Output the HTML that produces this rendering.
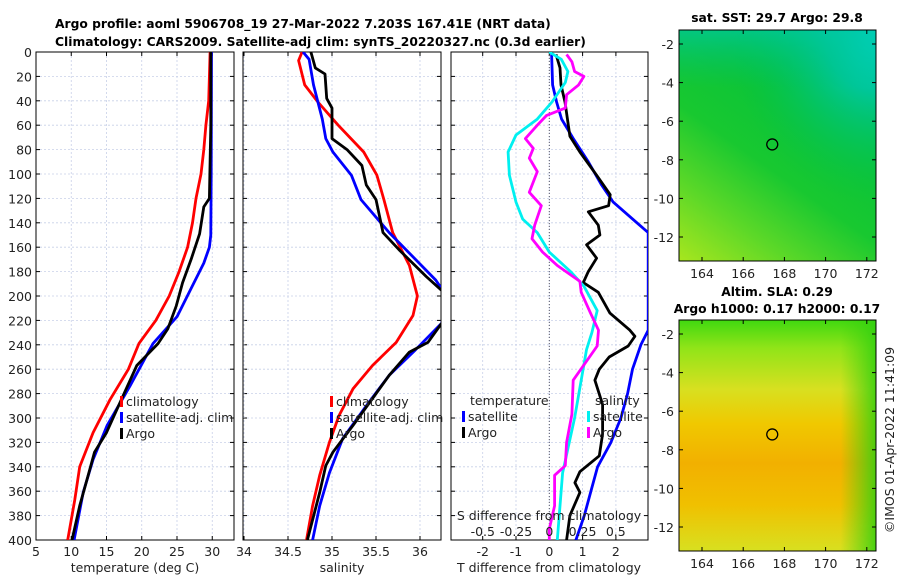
<!DOCTYPE html>
<html><head><meta charset="utf-8"><style>
body{margin:0;background:#fff}
svg{display:block;font-family:"DejaVu Sans","Liberation Sans",sans-serif}
</style></head><body>
<svg id="c" width="900" height="580" viewBox="0 0 900 580">
<defs>
<linearGradient id="g1base" x1="0" y1="1" x2="0.6" y2="0">
<stop offset="0" stop-color="#a8e61e"/><stop offset="0.25" stop-color="#5cd828"/><stop offset="0.5" stop-color="#18c830"/><stop offset="1" stop-color="#00c040"/>
</linearGradient>
<radialGradient id="g1cy" cx="1" cy="0" r="0.75">
<stop offset="0" stop-color="#00d8e0"/><stop offset="0.35" stop-color="#00c8b0" stop-opacity="0.8"/><stop offset="1" stop-color="#00c040" stop-opacity="0"/>
</radialGradient>
<linearGradient id="g1top" x1="0" y1="0" x2="0" y2="1">
<stop offset="0" stop-color="#00c8a0" stop-opacity="0.7"/><stop offset="0.25" stop-color="#00c070" stop-opacity="0"/>
</linearGradient>
<linearGradient id="g2a" x1="0" y1="0" x2="0" y2="1">
<stop offset="0" stop-color="#40d810"/><stop offset="0.12" stop-color="#90e418"/><stop offset="0.3" stop-color="#d8e020"/><stop offset="0.45" stop-color="#f0c800"/><stop offset="0.62" stop-color="#f2b000"/><stop offset="0.8" stop-color="#f0c000"/><stop offset="1" stop-color="#d8e020"/>
</linearGradient>
<linearGradient id="g2c" x1="0" y1="0" x2="1" y2="0">
<stop offset="0.82" stop-color="#40d010" stop-opacity="0"/><stop offset="1" stop-color="#30d010" stop-opacity="0.85"/>
</linearGradient>
</defs>
<g id="titles" font-weight="bold" font-size="12.3">
<text x="55" y="28">Argo profile: aoml 5906708_19 27-Mar-2022 7.203S 167.41E (NRT data)</text>
<text x="55" y="46">Climatology: CARS2009. Satellite-adj clim: synTS_20220327.nc (0.3d earlier)</text>
<text x="777" y="22" text-anchor="middle">sat. SST: 29.7 Argo: 29.8</text>
<text x="777" y="296" text-anchor="middle">Altim. SLA: 0.29</text>
<text x="777" y="313" text-anchor="middle">Argo h1000: 0.17 h2000: 0.17</text>
</g>
<g id="p1"></g>
<g id="p2"></g>
<g id="p3"></g>
<g id="m1">
<rect x="679" y="30" width="197" height="231" fill="url(#g1base)"/>
<rect x="679" y="30" width="197" height="231" fill="url(#g1cy)"/>
<rect x="679" y="30" width="197" height="231" fill="url(#g1top)"/>
</g>
<g id="m2">
<rect x="679" y="320" width="197" height="231" fill="url(#g2a)"/>
<rect x="679" y="320" width="197" height="231" fill="url(#g2c)"/>
</g>
<text transform="translate(894,440) rotate(-90)" text-anchor="middle" font-size="12.5" fill="#222">©IMOS 01-Apr-2022 11:41:09</text>
</svg>
<script>
const NS="http://www.w3.org/2000/svg";
const tClimD=[0,20,40,60,80,100,120,140,160,180,200,220,239,260,285,312,340,367,400];
const tempClim=[29.7,29.6,29.5,29.1,28.8,28.4,27.7,27.2,26.5,25.3,23.9,22.0,19.6,18.1,15.5,13.1,11.2,10.5,9.5];
const tSatD=[0,100,150,160,173,195,217,239,274,306,334,361,400];
const tempSat=[29.9,29.85,29.8,29.6,28.8,26.9,25.0,21.6,18.3,15.1,13.1,11.7,10.4];
const tArgoD=[0,60,120,127,149,170,189,208,227,239,257,285,312,328,347,372,400];
const tempArgo=[29.8,29.8,29.6,28.8,28.2,27.0,25.8,24.9,23.7,22.3,19.3,17.1,15.0,13.3,12.4,11.2,10.1];
const salClimD=[0,7,27,41,60,82,101,121,148,175,200,216,238,257,276,298,320,347,372,400];
const salClim=[34.66,34.62,34.69,34.84,35.07,35.36,35.51,35.59,35.69,35.88,35.97,35.92,35.73,35.46,35.24,35.08,34.97,34.86,34.78,34.71];
const salSatD=[0,6,27,41,55,71,82,101,121,148,187,200,222,244,265,290,317,345,372,400];
const salSat=[34.67,34.74,34.79,34.84,34.89,34.93,35.01,35.22,35.33,35.65,36.18,36.3,36.25,35.95,35.65,35.39,35.12,34.97,34.86,34.78];
const salArgoD=[0,13,18,38,46,71,80,93,109,121,148,162,184,195,205,222,238,246,265,284,306,328,339,361,400];
const salArgo=[34.76,34.81,34.92,34.94,35.0,35.0,35.17,35.34,35.39,35.5,35.58,35.76,36.07,36.24,36.35,36.25,36.09,35.88,35.65,35.46,35.24,35.01,34.93,34.86,34.72];
const dTSatD=[2,27,41,55,71,90,109,123,148,228,240,260,280,300,320,340,360,380,400];
const tDiffSat=[0.07,0.1,0.22,0.37,0.72,1.17,1.57,1.92,2.97,2.97,2.75,2.5,2.35,2.15,1.85,1.45,1.25,1.05,0.8];
const dTArgoD=[2,13,27,41,69,82,101,117,126,131,142,150,158,169,180,189,197,214,228,233,241,250,260,269,289,313,331,344,353,361,380,400];
const tDiffArgo=[0.2,0.32,0.35,0.47,0.62,0.92,1.42,1.83,1.78,1.17,1.47,1.52,1.12,1.42,1.17,1.02,1.47,1.82,2.42,2.57,2.37,1.8,1.5,1.37,1.6,1.6,1.5,0.92,0.77,0.92,0.62,0.52];
const sSatD=[0,6,16,25,41,55,68,82,101,123,137,148,164,180,192,212,230,244,269,300,345,400];
const sDiffSat=[0.0,0.09,0.14,0.12,0.02,-0.09,-0.25,-0.31,-0.3,-0.25,-0.2,-0.09,0.0,0.16,0.26,0.36,0.32,0.28,0.24,0.19,0.1,0.06];
const sArgoD=[2,8,16,20,27,35,46,52,60,71,79,87,98,115,126,142,153,164,175,188,197,214,228,241,269,297,320,339,347,372,391,400];
const sDiffArgo=[0.13,0.17,0.19,0.26,0.22,0.13,0.12,-0.02,-0.09,-0.18,-0.12,-0.15,-0.09,-0.15,-0.06,-0.11,-0.13,-0.05,0.06,0.23,0.24,0.31,0.37,0.36,0.18,0.17,0.13,0.12,0.04,0.04,0.0,0.0];
const tTicks1=[5,10,15,20,25,30];
const sTicks2=[34,34.5,35,35.5,36];
const tTicks3=[-2,-1,0,1,2];
const sTicks3=[-0.5,-0.25,0,0.25,0.5];
const depthTicks=[0,20,40,60,80,100,120,140,160,180,200,220,240,260,280,300,320,340,360,380,400];
const lonTicks=[164,166,168,170,172];
const latTicks=[-2,-4,-6,-8,-10,-12];
const argoLon=167.41, argoLat=-7.203;

const Y0=52,Y1=540;
const yD=d=>Y0+(d/400)*(Y1-Y0);
function el(tag,a,parent){const e=document.createElementNS(NS,tag);for(const k in a)e.setAttribute(k,a[k]);parent.appendChild(e);return e;}
function txt(parent,x,y,s,anchor,size){const t=el('text',{x:x,y:y,'text-anchor':anchor||'middle','font-size':size||12.5,fill:'#222'},parent);t.textContent=s;return t;}

function panel(g,x0,x1,xs,xticks,showY){
  for(const d of depthTicks){
    const l=el('line',{x1:x0,x2:x1,y1:yD(d),y2:yD(d),stroke:'#c8d0e8','stroke-width':0.8,'stroke-dasharray':'2,2'},g);
    
    
    el('line',{x1:x0,x2:x0+4,y1:yD(d),y2:yD(d),stroke:'#000'},g);
    el('line',{x1:x1-4,x2:x1,y1:yD(d),y2:yD(d),stroke:'#000'},g);
    if(showY){const t=txt(g,x0-4,yD(d)+5,String(d),'end');
      
      }
  }
  for(const v of xticks){
    const x=xs(v);
    el('line',{x1:x,x2:x,y1:Y0,y2:Y1,stroke:'#c8d0e8','stroke-width':0.8,'stroke-dasharray':'2,2'},g);
    el('line',{x1:x,x2:x,y1:Y1-4,y2:Y1,stroke:'#000'},g);
    el('line',{x1:x,x2:x,y1:Y0,y2:Y0+4,stroke:'#000'},g);
  }
  const r=el('rect',{x:x0,y:Y0,width:x1-x0,height:Y1-Y0,fill:'none',stroke:'#000','stroke-width':1},g);
  
  
}
function xlabels(g,xs,ticks,y){for(const v of ticks){const t=txt(g,xs(v),y,String(v));
  
  }}
function line(g,x0,x1,xs,vals,ds,color,name){
  const clip='clip'+name;
  const cp=el('clipPath',{id:clip},g);el('rect',{x:x0,y:Y0,width:x1-x0,height:Y1-Y0},cp);
  const pts=vals.map((v,i)=>xs(v).toFixed(1)+','+yD(ds[i]).toFixed(1)).join(' ');
  const p=el('polyline',{points:pts,fill:'none',stroke:color,'stroke-width':2.8,'stroke-linejoin':'round','clip-path':'url(#'+clip+')'},g);
  
  
}
function legend(g,x,y,items){
  items.forEach((it,i)=>{
    el('rect',{x:x,y:y+i*16-10,width:3,height:11,fill:it[1]},g);
    const t=txt(g,x+6,y+i*16,it[0],'start');
    
    
  });
}
const g1=document.getElementById('p1');
const x1s=v=>36+(v-5)*7.05;
panel(g1,36,234,x1s,tTicks1,true);
xlabels(g1,x1s,tTicks1,556);
line(g1,36,234,x1s,tempClim,tClimD,'#ff0000','temp-climatology-line');
line(g1,36,234,x1s,tempSat,tSatD,'#0000ff','temp-satellite-line');
line(g1,36,234,x1s,tempArgo,tArgoD,'#000000','temp-argo-line');
legend(g1,120,406,[['climatology','#ff0000'],['satellite-adj. clim','#0000ff'],['Argo','#000']]);
let t=txt(g1,135,572,'temperature (deg C)');
const g2=document.getElementById('p2');
const x2s=v=>244+(v-34)*88;
panel(g2,243,441,x2s,sTicks2,false);
xlabels(g2,x2s,sTicks2,556);
line(g2,243,441,x2s,salClim,salClimD,'#ff0000','sal-climatology-line');
line(g2,243,441,x2s,salSat,salSatD,'#0000ff','sal-satellite-line');
line(g2,243,441,x2s,salArgo,salArgoD,'#000000','sal-argo-line');
legend(g2,330,406,[['climatology','#ff0000'],['satellite-adj. clim','#0000ff'],['Argo','#000']]);
t=txt(g2,342,572,'salinity');
const g3=document.getElementById('p3');
const x3t=v=>549.3+v*33.3, x3s=v=>549.3+v*133;
panel(g3,451,648,x3t,tTicks3,false);
el('line',{x1:549.3,x2:549.3,y1:Y0,y2:Y1,stroke:'#556','stroke-dasharray':'1,2'},g3);
xlabels(g3,x3t,tTicks3,556);
line(g3,451,648,x3t,tDiffSat,dTSatD,'#0000ff','tdiff-satellite-line');
line(g3,451,648,x3t,tDiffArgo,dTArgoD,'#000000','tdiff-argo-line');
line(g3,451,648,x3s,sDiffSat,sSatD,'#00f0f0','sdiff-satellite-line');
line(g3,451,648,x3s,sDiffArgo,sArgoD,'#ff00ff','sdiff-argo-line');
t=txt(g3,470,405,'temperature','start');
legend(g3,462,421,[['satellite','#0000ff'],['Argo','#000']]);
t=txt(g3,595,405,'salinity','start');
legend(g3,587,421,[['satellite','#00f0f0'],['Argo','#ff00ff']]);
t=txt(g3,549,520,'S difference from climatology');
xlabels(g3,x3s,sTicks3,536);
t=txt(g3,549,572,'T difference from climatology');
function map(g,top,bot,latTop,latPx){
  const lx=v=>702+(v-164)*20.6;
  const ly=v=>latTop+(-2-v)*latPx;
  el('rect',{x:679,y:top,width:197,height:bot-top,fill:'none',stroke:'#000'},g);
  for(const v of lonTicks){el('line',{x1:lx(v),x2:lx(v),y1:bot-4,y2:bot,stroke:'#000'},g);el('line',{x1:lx(v),x2:lx(v),y1:top,y2:top+4,stroke:'#000'},g);
    const t=txt(g,lx(v),bot+17,String(v));}
  for(const v of latTicks){el('line',{x1:679,x2:683,y1:ly(v),y2:ly(v),stroke:'#000'},g);el('line',{x1:872,x2:876,y1:ly(v),y2:ly(v),stroke:'#000'},g);
    const t=txt(g,674,ly(v)+5,String(v),'end');}
  const c=el('circle',{cx:lx(argoLon),cy:ly(argoLat),r:5.5,fill:'none',stroke:'#000','stroke-width':1.3},g);
  
  
}
map(document.getElementById('m1'),30,261,44,19.3);
map(document.getElementById('m2'),320,551,334,19.3);
</script>
</body></html>
